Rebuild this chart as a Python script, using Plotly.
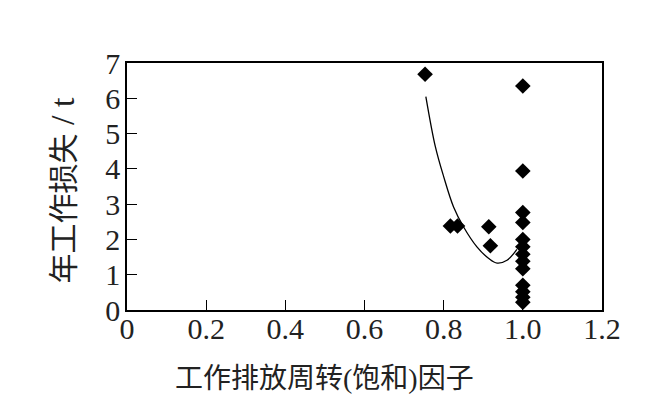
import plotly.graph_objects as go

# Scatter data (working turnover factor, annual working loss / t)
pts_x = [0.753, 0.817, 0.835, 0.914, 0.918,
         1.0, 1.0, 1.0, 1.0, 1.0, 1.0, 1.0, 1.0, 1.0, 1.0, 1.0, 1.0, 1.0]
pts_y = [6.68, 2.38, 2.38, 2.36, 1.82,
         6.35, 3.94, 2.76, 2.48, 2.00, 1.79, 1.58, 1.38, 1.17, 0.70, 0.52, 0.36, 0.22]

# Fitted curve
fit_x = [0.755, 0.779, 0.800, 0.825, 0.850, 0.884, 0.914, 0.935, 0.960, 0.985]
fit_y = [6.05, 4.63, 3.78, 2.92, 2.36, 1.79, 1.46, 1.33, 1.41, 1.72]

x_ticks = [0, 0.2, 0.4, 0.6, 0.8, 1.0, 1.2]
x_ticklabels = ["0", "0.2", "0.4", "0.6", "0.8", "1.0", "1.2"]
y_ticks = [0, 1, 2, 3, 4, 5, 6, 7]

x_title = "工作排放周转(饱和)因子"
y_title_main = "年工作损失"
y_title_unit = " / t"

FONT = "Liberation Serif, Times New Roman, Noto Sans CJK SC"

fig = go.Figure()
fig.add_trace(go.Scatter(x=fit_x, y=fit_y, mode="lines",
                         line=dict(color="black", width=1.3, shape="spline"),
                         showlegend=False, hoverinfo="skip"))
fig.add_trace(go.Scatter(x=pts_x, y=pts_y, mode="markers",
                         marker=dict(symbol="diamond", size=12, color="black"),
                         showlegend=False))

axis_common = dict(showline=True, linecolor="black", linewidth=1.5, mirror=True,
                   ticks="inside", ticklen=10, tickwidth=1.2, tickcolor="black",
                   showgrid=False, zeroline=False,
                   tickfont=dict(family=FONT, size=30, color="#222"))

fig.update_xaxes(range=[0, 1.2], tickvals=x_ticks, ticktext=x_ticklabels,
                 ticklabelstandoff=-9, **axis_common)
fig.update_yaxes(range=[0, 7], tickvals=y_ticks, ticklabelstandoff=-1, **axis_common)

y_title = (y_title_main
           + '<span style="font-family:Liberation Serif;font-size:34px">'
           + y_title_unit + '</span>')

fig.update_layout(
    width=649, height=396,
    margin=dict(l=119, r=55, t=55, b=94, pad=0),
    plot_bgcolor="white", paper_bgcolor="white",
    font=dict(family=FONT, color="#222"),
    annotations=[
        dict(text=x_title, xref="paper", yref="paper", x=(324 - 127) / 475, y=0,
             yshift=-68, xanchor="center", yanchor="middle", showarrow=False,
             font=dict(family=FONT, size=28, color="#222")),
        dict(text=y_title, xref="paper", yref="paper", x=0, y=0.5,
             xshift=-65, yshift=-4, xanchor="center", yanchor="middle", showarrow=False,
             textangle=-90, font=dict(family=FONT, size=30, color="#222")),
    ],
)

fig.write_html("out.html")
